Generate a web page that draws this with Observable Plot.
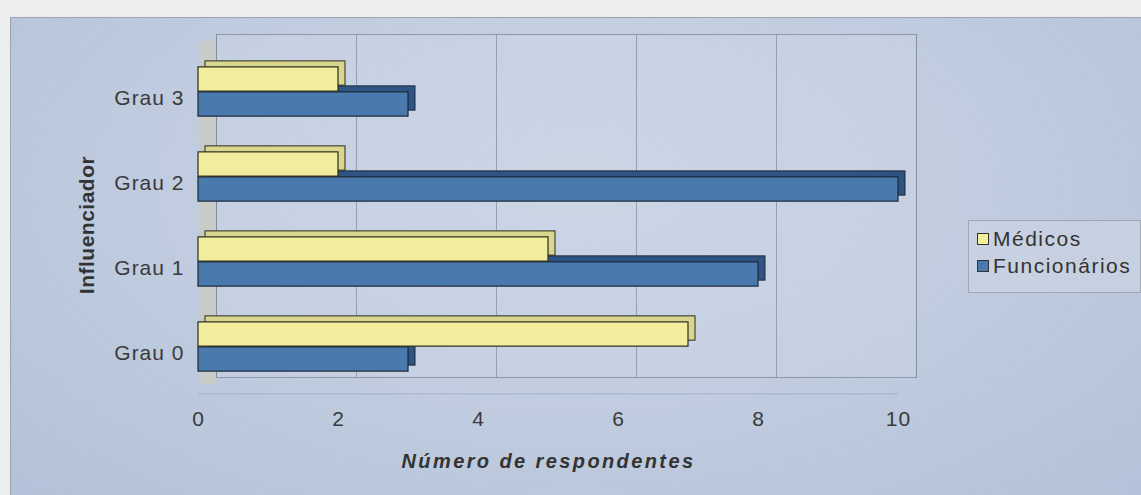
<!DOCTYPE html>
<html>
<head>
<meta charset="utf-8">
<script src="https://cdn.jsdelivr.net/npm/d3@7"></script>
<script src="https://cdn.jsdelivr.net/npm/@observablehq/plot@0.6"></script>
<style>
  html, body { margin: 0; padding: 0; background: #eceeef; }
  #wrap { position: relative; width: 1141px; height: 495px; overflow: hidden; font-family: "Liberation Sans", Arial, sans-serif; }
  #panel { position: absolute; left: 10px; top: 17px; width: 1131px; height: 478px;
    background: radial-gradient(ellipse at 50% 35%, #cbd5e4 0%, #c2cde0 45%, #b3c2d8 100%);
    border-left: 1px solid #9aa3ae; border-top: 1px solid #9aa3ae; box-sizing: border-box; }
  #chart { position: absolute; left: 0; top: 0; }
  #chart svg text { letter-spacing: 1px; }
  #legend { position: absolute; left: 968px; top: 220px; width: 173px; height: 73px; box-sizing: border-box;
    border: 1px solid #9ea8b6; background: rgba(205,214,228,0.6); font-size: 21px; letter-spacing: 1.5px; color: #333; }
  .item { position: absolute; left: 8px; height: 24px; line-height: 24px; display: flex; align-items: center; white-space: nowrap; }
  .sw { width: 10px; height: 10px; border: 1px solid #333; margin-right: 4px; }
</style>
</head>
<body>
<div id="wrap">
  <div id="panel"></div>
  <div id="chart"></div>
  <div id="legend"></div>
</div>
<script>
const categories = ["Grau 3", "Grau 2", "Grau 1", "Grau 0"];
const seriesNames = ["Médicos", "Funcionários"];
const medicos = [2, 2, 5, 7];
const funcionarios = [3, 10, 8, 3];
const xTicks = [0, 2, 4, 6, 8, 10];
const xTitle = "Número de respondentes";
const yTitle = "Influenciador";

const colors = { "Médicos": "#f2ee9e", "Funcionários": "#4a7aad" };
const depthColors = { "Médicos": "#d9d68e", "Funcionários": "#2f5483" };

const medData = categories.map((c, i) => ({cat: c, series: seriesNames[0], value: medicos[i]}));
const funData = categories.map((c, i) => ({cat: c, series: seriesNames[1], value: funcionarios[i]}));

const H = 495, mTop = 47, mBottom = 105;
const band = (H - mTop - mBottom) / categories.length;
const half = band / 2;
const barH = 25;

const chart = Plot.plot({
  width: 1141,
  height: H,
  marginLeft: 198,
  marginRight: 243,
  marginTop: mTop,
  marginBottom: mBottom,
  style: { background: "transparent", fontFamily: "'Liberation Sans', Arial, sans-serif", fontSize: "21px", color: "#3a3a3a" },
  x: { domain: [0, 10], label: null },
  y: { domain: categories, padding: 0, label: null },
  marks: [
    Plot.frame({ dx: 18, dy: -13, stroke: "#8d98a8", fill: "#cdd6e4", fillOpacity: 0.35 }),
    Plot.ruleX(xTicks, { dx: 18, dy: -13, stroke: "#7f8a9b", strokeOpacity: 0.7 }),
    Plot.ruleX([0], { stroke: "#c9ccc6", strokeWidth: 17, dx: 9, dy: -6, strokeOpacity: 0.9 }),
    Plot.ruleY([categories[categories.length - 1]], { dy: half + 4, stroke: "#a2afc2", strokeWidth: 1 }),
    // Funcionários: depth then front
    Plot.barX(funData, { x: "value", y: "cat", insetTop: half, insetBottom: half - barH, dx: 7, dy: -6,
      fill: depthColors["Funcionários"], stroke: "#1c2838", strokeWidth: 1 }),
    Plot.barX(funData, { x: "value", y: "cat", insetTop: half, insetBottom: half - barH,
      fill: colors["Funcionários"], stroke: "#1c2838", strokeWidth: 1.2 }),
    // Médicos: depth then front
    Plot.barX(medData, { x: "value", y: "cat", insetTop: half - barH, insetBottom: half, dx: 7, dy: -6,
      fill: depthColors["Médicos"], stroke: "#2a2a1c", strokeWidth: 1 }),
    Plot.barX(medData, { x: "value", y: "cat", insetTop: half - barH, insetBottom: half,
      fill: colors["Médicos"], stroke: "#2a2a1c", strokeWidth: 1.2 }),
    Plot.axisX(xTicks, { tickSize: 0, tickPadding: 21, fontSize: 21, fill: "#3a3a3a", label: null }),
    Plot.axisY({ tickSize: 0, tickPadding: 14, dy: 6, fontSize: 21, fill: "#3a3a3a", label: null }),
    Plot.text([xTitle], { frameAnchor: "bottom", dy: 77, text: d => d, fontWeight: "bold", fontStyle: "italic", fontSize: 20, fill: "#333" }),
    Plot.text([yTitle], { frameAnchor: "left", textAnchor: "middle", dx: -111, dy: 6, rotate: -90, text: d => d, fontWeight: "bold", fontSize: 21, fill: "#333" })
  ]
});
document.getElementById("chart").appendChild(chart);
d3.select(chart).selectAll("text")
  .filter(function() { return this.textContent === xTitle; })
  .style("letter-spacing", "2.4px");
d3.select(chart).selectAll("text")
  .filter(function() { return this.textContent === yTitle; })
  .style("letter-spacing", "0.5px");

const legend = document.getElementById("legend");
seriesNames.forEach((s, i) => {
  const it = document.createElement("div");
  it.className = "item";
  it.style.top = (6 + i * 27) + "px";
  const sw = document.createElement("span");
  sw.className = "sw";
  sw.style.background = colors[s];
  const t = document.createElement("span");
  t.textContent = s;
  it.appendChild(sw); it.appendChild(t);
  legend.appendChild(it);
});
</script>
</body>
</html>
